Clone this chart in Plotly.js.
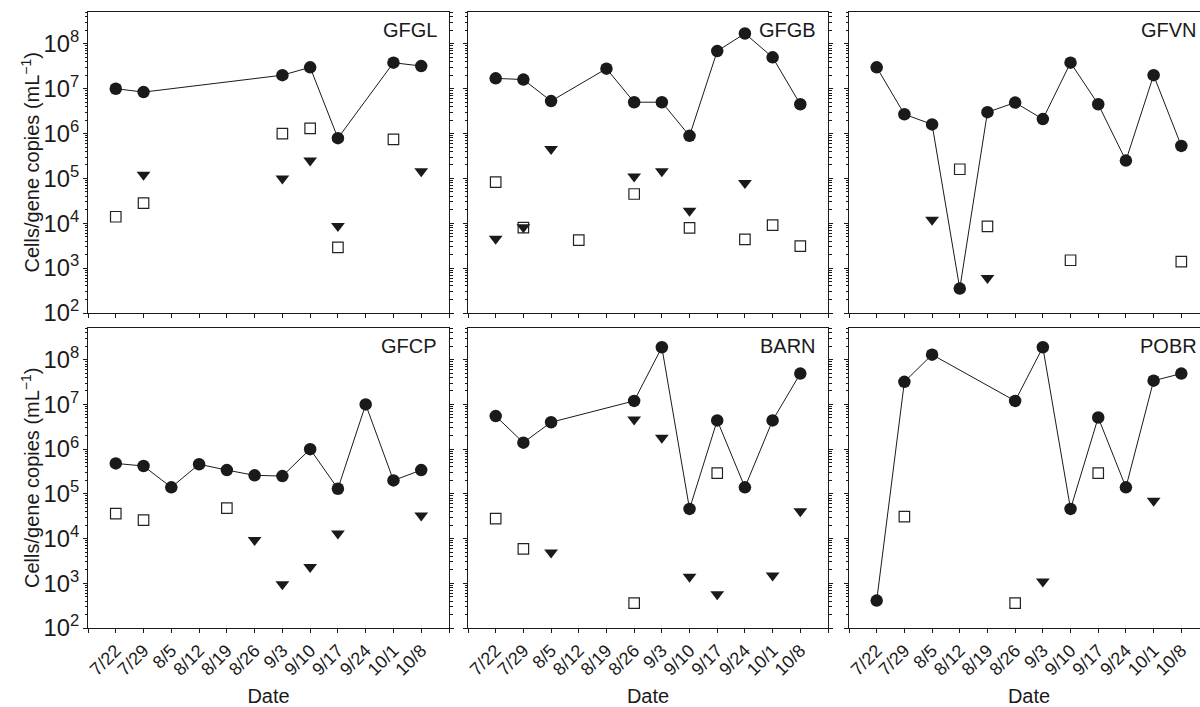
<!DOCTYPE html>
<html><head><meta charset="utf-8">
<script src="https://cdn.plot.ly/plotly-3.0.1.min.js"></script>
<style>html,body{margin:0;padding:0;overflow:hidden;background:#fff}</style>
</head><body><div id="chart" style="width:1212px;height:707px"></div>
<script>
const N = null;
const dates = ['7/22','7/29','8/5','8/12','8/19','8/26','9/3','9/10','9/17','9/24','10/1','10/8'];
const panelNames = ['GFGL','GFGB','GFVN','GFCP','BARN','POBR'];
const yTitle = 'Cells/gene copies (mL<sup>−1</sup>)';
const xTitle = 'Date';

// filled circles (connected by a line)
const gfglCircle = [1.0e7, 8.4e6, N, N, N, N, 2.0e7, 3.0e7, 7.9e5, N, 3.8e7, 3.2e7];
const gfgbCircle = [1.7e7, 1.6e7, 5.3e6, N, 2.8e7, 5.0e6, 5.0e6, 8.9e5, 6.9e7, 1.7e8, 5.0e7, 4.5e6];
const gfvnCircle = [3.0e7, 2.7e6, 1.6e6, 3.5e2, 3.0e6, 4.9e6, 2.1e6, 3.8e7, 4.5e6, 2.5e5, 2.0e7, 5.3e5];
const gfcpCircle = [4.8e5, 4.2e5, 1.4e5, 4.6e5, 3.4e5, 2.6e5, 2.5e5, 1.0e6, 1.3e5, 1.0e7, 2.0e5, 3.4e5];
const barnCircle = [5.5e6, 1.4e6, 4.0e6, N, N, 1.2e7, 1.9e8, 4.6e4, 4.4e6, 1.4e5, 4.4e6, 4.9e7];
const pobrCircle = [4.1e2, 3.2e7, 1.3e8, N, N, 1.2e7, 1.9e8, 4.6e4, 5.1e6, 1.4e5, 3.4e7, 4.9e7];

// open squares
const gfglSquare = [1.4e4, 2.8e4, N, N, N, N, 1.0e6, 1.3e6, 2.9e3, N, 7.4e5, N];
const gfgbSquare = [8.3e4, 8.0e3, N, 4.2e3, N, 4.5e4, N, 7.9e3, N, 4.4e3, 9.1e3, 3.1e3];
const gfvnSquare = [N, N, N, 1.6e5, 8.5e3, N, N, 1.5e3, N, N, N, 1.4e3];
const gfcpSquare = [3.6e4, 2.6e4, N, N, 4.8e4, N, N, N, N, N, N, N];
const barnSquare = [2.8e4, 5.9e3, N, N, N, 3.6e2, N, N, 2.9e5, N, N, N];
const pobrSquare = [N, 3.1e4, N, N, N, 3.6e2, N, N, 2.9e5, N, N, N];

// filled down-triangles
const gfglTriangle = [N, 1.2e5, N, N, N, N, 1.0e5, 2.5e5, 8.7e3, N, N, 1.45e5];
const gfgbTriangle = [4.5e3, 8.2e3, 4.5e5, N, N, 1.1e5, 1.45e5, 1.9e4, N, 7.9e4, N, N];
const gfvnTriangle = [N, N, 1.2e4, N, 6.0e2, N, N, N, N, N, N, N];
const gfcpTriangle = [N, N, N, N, N, 9.3e3, 9.5e2, 2.3e3, 1.3e4, N, N, 3.3e4];
const barnTriangle = [N, N, 4.9e3, N, N, 4.6e6, 1.8e6, 1.4e3, 5.7e2, N, 1.5e3, 4.1e4];
const pobrTriangle = [N, N, N, N, N, N, 1.1e3, N, N, N, 7.0e4, N];

const circles = [gfglCircle, gfgbCircle, gfvnCircle, gfcpCircle, barnCircle, pobrCircle];
const squares = [gfglSquare, gfgbSquare, gfvnSquare, gfcpSquare, barnSquare, pobrSquare];
const triangles = [gfglTriangle, gfgbTriangle, gfvnTriangle, gfcpTriangle, barnTriangle, pobrTriangle];

const W = 1212, H = 707;
const colPx = [[88, 449], [468, 828], [849, 1209]];
const rowPx = [[12, 313], [328, 628]];
const xIdx = dates.map((d, i) => i);
const FONT = 'Liberation Sans, Arial, Helvetica, sans-serif';
const ink = '#1a1a1a';

const traces = [];
const layout = {
  width: W, height: H,
  margin: {l: 0, r: 0, t: 0, b: 0},
  paper_bgcolor: '#fff', plot_bgcolor: '#fff',
  showlegend: false,
  font: {family: FONT, color: ink},
  annotations: []
};

panelNames.forEach((name, i) => {
  const col = i % 3, row = Math.floor(i / 3);
  const xa = 'x' + (i + 1), ya = 'y' + (i + 1);
  traces.push({
    x: xIdx, y: squares[i], xaxis: xa, yaxis: ya, mode: 'markers', type: 'scatter',
    marker: {symbol: 'square-open', size: 10.5, color: '#222', line: {width: 1.2, color: '#222'}},
    hoverinfo: 'skip'
  });
  traces.push({
    x: xIdx, y: triangles[i], xaxis: xa, yaxis: ya, mode: 'markers', type: 'scatter',
    marker: {symbol: 'triangle-down', size: 12, color: ink, line: {width: 0}},
    hoverinfo: 'skip'
  });
  traces.push({
    x: xIdx, y: circles[i], xaxis: xa, yaxis: ya, mode: 'lines+markers', type: 'scatter',
    connectgaps: true,
    line: {color: ink, width: 1},
    marker: {symbol: 'circle', size: 12.5, color: ink, line: {width: 0}},
    hoverinfo: 'skip'
  });
  const sfx = i === 0 ? '' : String(i + 1);
  const xaxis = {
    type: 'linear', anchor: ya, domain: [colPx[col][0] / W, colPx[col][1] / W],
    range: [-1, dates.length], tickmode: 'array', tickvals: xIdx, ticktext: dates,
    ticks: 'outside', ticklen: 4, tickwidth: 1, tickcolor: ink, tickangle: -45,
    minor: {tickmode: 'array', tickvals: [-1, dates.length], ticks: 'outside', ticklen: 4, tickwidth: 1, tickcolor: ink, showgrid: false},
    showticklabels: row === 1, tickfont: {size: 18, family: FONT, color: ink},
    showline: true, linecolor: ink, linewidth: 1, mirror: true,
    showgrid: false, zeroline: false
  };
  if (row === 1) xaxis.title = {text: xTitle, font: {size: 20, family: FONT, color: ink}, standoff: 12};
  layout['xaxis' + sfx] = xaxis;
  layout['yaxis' + sfx] = {
    type: 'log', anchor: xa, domain: [(H - rowPx[row][1]) / H, (H - rowPx[row][0]) / H],
    range: [2, 8.71], dtick: 1, exponentformat: 'power',
    ticks: 'outside', ticklen: 4, tickwidth: 1, tickcolor: ink,
    minor: {dtick: 'D1', ticks: 'outside', ticklen: 2.5, tickwidth: 1, tickcolor: ink, showgrid: false},
    showticklabels: col === 0, tickfont: {size: 19, family: FONT, color: ink},
    showline: true, linecolor: ink, linewidth: 1, mirror: 'ticks',
    showgrid: false, zeroline: false
  };
  if (col === 0) {
    layout.annotations.push({
      text: yTitle, textangle: -90, xref: 'paper', yref: ya + ' domain',
      x: 30 / W, y: 0.5, xanchor: 'center', yanchor: 'middle', showarrow: false,
      font: {size: 20, family: FONT, color: ink}
    });
  }
  layout.annotations.push({
    text: name, xref: xa + ' domain', yref: ya + ' domain', x: 1, y: 1,
    xanchor: 'right', yanchor: 'top', xshift: -10, yshift: -5, showarrow: false,
    font: {size: 20, family: FONT, color: ink}
  });
});

Plotly.newPlot('chart', traces, layout, {staticPlot: true, displayModeBar: false});
</script></body></html>
